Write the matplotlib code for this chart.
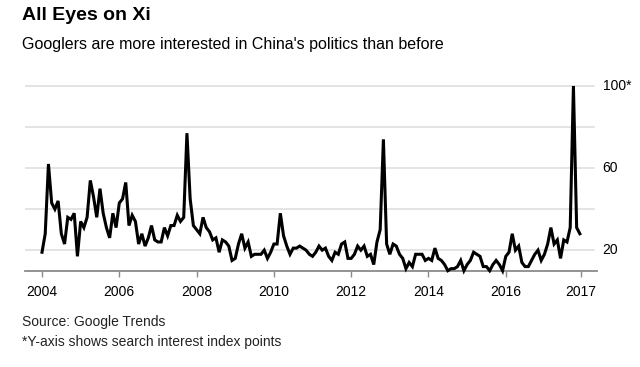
import matplotlib
matplotlib.use("Agg")
import matplotlib.pyplot as plt
from matplotlib import font_manager
import numpy as np

# ---- data (monthly Google Trends index, Jan 2004 onward) ----
interest = [
    19, 28, 62, 43, 40, 44, 28, 23, 36, 35, 38, 17, 34, 31, 36, 54, 46, 36, 50, 38, 31, 26, 38, 31,
    43, 45, 53, 32, 37, 34, 23, 28, 22, 26, 32, 25, 24, 24, 31, 27, 32, 32, 37, 34, 36, 77, 45, 32,
    30, 28, 36, 31, 29, 25, 26, 19, 25, 24, 22, 15, 16, 23, 28, 21, 24, 17, 18, 18, 18, 20, 16, 19,
    23, 23, 38, 27, 22, 18, 21, 21, 22, 21, 20, 18, 17, 19, 22, 20, 21, 17, 15, 19, 18, 23, 24, 16,
    16, 18, 22, 20, 22, 17, 18, 13, 24, 30, 74, 23, 18, 23, 22, 18, 16, 11, 14, 12, 18, 18, 18, 15,
    16, 15, 21, 16, 15, 13, 10, 11, 11, 12, 15, 10, 13, 15, 19, 18, 17, 12, 12, 10, 13, 15, 13, 10,
    17, 19, 28, 20, 22, 14, 12, 12, 15, 18, 20, 15, 18, 23, 31, 23, 25, 16, 25, 24, 31, 100, 31, 28,
]
start_year = 2004
xtick_pos = [2004, 2006, 2008, 2010, 2012, 2014, 2016, 2017.95]
xtick_labels = ["2004", "2006", "2008", "2010", "2012", "2014", "2016", "2017"]
ygrid = [20, 40, 60, 80, 100]
ytick_pos = [20, 60, 100]
ytick_labels = ["20", "60", "100*"]

title = "All Eyes on Xi"
subtitle = "Googlers are more interested in China's politics than before"
source = "Source: Google Trends"
note = "*Y-axis shows search interest index points"


def has_font(name):
    try:
        font_manager.findfont(font_manager.FontProperties(family=name), fallback_to_default=False)
        return True
    except Exception:
        return False

base = "Liberation Sans" if has_font("Liberation Sans") else "DejaVu Sans"
plt.rcParams["font.family"] = [base, "DejaVu Sans"]

x = start_year + np.arange(len(interest)) / 12.0

W, H = 640, 367
fig = plt.figure(figsize=(W / 100, H / 100), dpi=100)
fig.patch.set_facecolor("white")

ax_left, ax_right = 25, 597
ax_bottom, ax_top = 270.7, 81.9
ax = fig.add_axes([ax_left / W, 1 - ax_bottom / H, (ax_right - ax_left) / W, (ax_bottom - ax_top) / H])

ax.set_xlim(2003.56, 2018.36)
ax.set_ylim(10, 102)

for g in ygrid:
    ax.axhline(g, color="#dcdcdc", lw=1.1, zorder=1, xmax=(594 - ax_left) / (ax_right - ax_left))

ax.plot(x, interest, color="black", lw=2.2, solid_joinstyle="miter", zorder=3, clip_on=False)

for s in ["top", "left", "right"]:
    ax.spines[s].set_visible(False)
ax.spines["bottom"].set_color("#8a8a8a")
ax.spines["bottom"].set_linewidth(1.3)

ax.set_xticks(xtick_pos)
ax.set_xticklabels(xtick_labels)
ax.tick_params(axis="x", direction="out", length=4, width=1.0, color="#8a8a8a",
               labelsize=10, pad=6, labelcolor="black")

ax.set_yticks([])
for v, lab in zip(ytick_pos, ytick_labels):
    ax.text(1.01, v, lab, transform=ax.get_yaxis_transform(), ha="left", va="center",
            fontsize=10, color="black")

fig.text(22 / W, 1 - 16 / H, title, fontsize=14, fontweight="bold",
         ha="left", va="center", color="black")
fig.text(22 / W, 1 - 44 / H, subtitle, fontsize=11.5, ha="left", va="center", color="black")
fig.text(22 / W, 1 - 322 / H, source, fontsize=10, ha="left", va="center", color="#222222")
fig.text(22 / W, 1 - 342 / H, note, fontsize=10, ha="left", va="center", color="#222222")

fig.savefig("out.png", dpi=100, facecolor="white")
